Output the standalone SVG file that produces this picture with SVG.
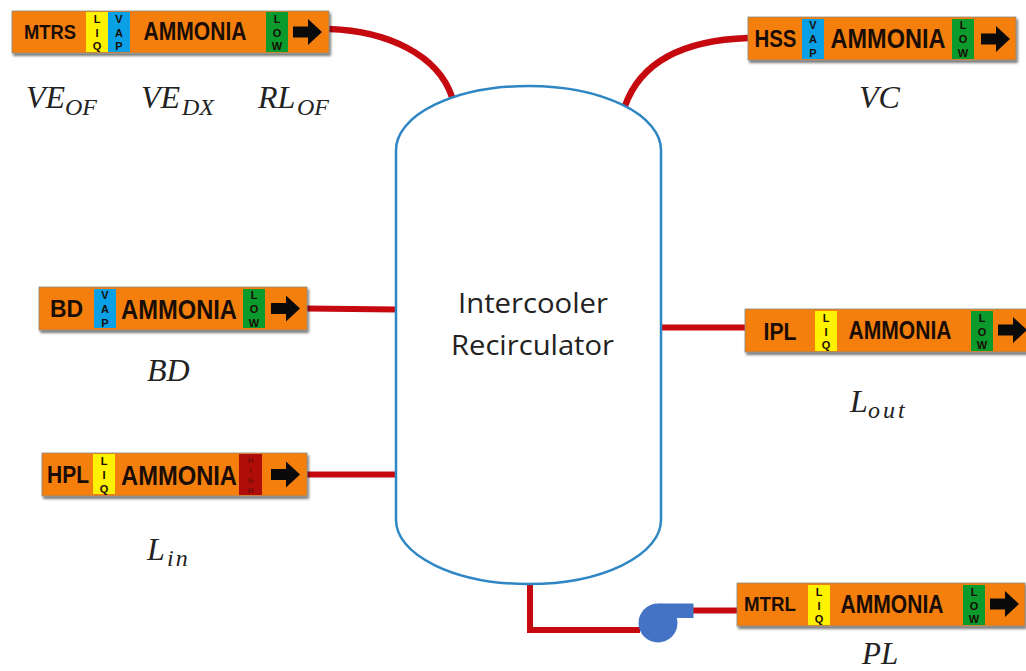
<svg xmlns="http://www.w3.org/2000/svg" width="1026" height="671" viewBox="0 0 1026 671">
<style>
.bar{fill:#f57f0e;stroke:#8a8a80;stroke-width:.8;filter:url(#sh)}
.t{font-family:"Liberation Sans",Arial,sans-serif;font-weight:700;fill:#1a0d05;text-anchor:middle}
.n{font-size:20px}
.a{font-size:25px}
.v{font-size:11px}
.h{font-size:7.5px;fill:#6e0c08}
.m{font-family:"Liberation Serif","Times New Roman",serif;font-style:italic;font-size:32px;fill:#222}
.s{font-size:24px}
.lbl{font-family:"Open Sans","Noto Sans",sans-serif;font-size:27px;fill:#222;text-anchor:middle}
.pipe{fill:none;stroke:#c5090f;stroke-width:6}
.y{fill:#fff200}.b{fill:#0aa0e6}.g{fill:#0b9a2c}.r{fill:#b00d08}
</style>
<defs>
<filter id="sh" x="-3%" y="-15%" width="106%" height="135%"><feDropShadow dx="1.5" dy="2.5" stdDeviation="1.2" flood-color="#000" flood-opacity=".55"/></filter>
<path id="ar" d="M0 -5.500H15V-13L29 0L15 13V5.500H0Z" fill="#0a0a0a"/>
</defs>
<g id="connectors">
<path class="pipe" style="stroke-width:6.500" d="M329 29C388 31 438 55 452 97"/>
<path class="pipe" style="stroke-width:6.500" d="M748 38C690 40 642 58 625 106"/>
<path class="pipe" d="M307 308.500L396 309.500"/>
<path class="pipe" d="M307 474.500H396"/>
<path class="pipe" d="M661 327.500H745"/>
<path class="pipe" d="M530 584V630H640"/>
<path class="pipe" d="M693 610.500H737"/>
</g>
<g id="vessel">
<path d="M396 150A132.500 64 0 0 1 661 150V520A132.500 64 0 0 1 396 520Z" fill="none" stroke="#2e86c4" stroke-width="2.500"/>
<text class="lbl" x="533" y="313" textLength="150" lengthAdjust="spacingAndGlyphs">Intercooler</text>
<text class="lbl" x="532.500" y="355" textLength="163" lengthAdjust="spacingAndGlyphs">Recirculator</text>
</g>
<g id="label-mtrs">
<rect class="bar" x="12" y="11" width="317" height="42"/>
<rect class="y" x="86" y="12" width="22" height="40"/><rect class="b" x="108" y="12" width="22" height="40"/><rect class="g" x="266" y="12" width="22" height="40"/>
<text class="t n" x="50" y="39" textLength="52" lengthAdjust="spacingAndGlyphs">MTRS</text>
<text class="t v"><tspan x="97" y="23">L</tspan><tspan x="97" y="36.500">I</tspan><tspan x="97" y="50">Q</tspan></text>
<text class="t v"><tspan x="119" y="23">V</tspan><tspan x="119" y="36.500">A</tspan><tspan x="119" y="50">P</tspan></text>
<text class="t a" transform="translate(195 40) scale(.843 1)">AMMONIA</text>
<text class="t v"><tspan x="277" y="23">L</tspan><tspan x="277" y="36.500">O</tspan><tspan x="277" y="50">W</tspan></text>
<use href="#ar" x="293" y="32"/>
<text class="m" x="26" y="108">VE<tspan class="s" x="65" y="115">OF</tspan></text>
<text class="m" x="141" y="108">VE<tspan class="s" x="182" y="115">DX</tspan></text>
<text class="m" x="258" y="108">RL<tspan class="s" x="297" y="115">OF</tspan></text>
</g>
<g id="label-hss">
<rect class="bar" x="748" y="17" width="268" height="43"/>
<rect class="b" x="802" y="19" width="22" height="40"/><rect class="g" x="952" y="19" width="22" height="40"/>
<text class="t n" x="775.500" y="47" textLength="42" lengthAdjust="spacingAndGlyphs" style="font-size:23px">HSS</text>
<text class="t v"><tspan x="813" y="29">V</tspan><tspan x="813" y="43">A</tspan><tspan x="813" y="56.500">P</tspan></text>
<text class="t a" transform="translate(888 48) scale(.871 1)" style="font-size:27px">AMMONIA</text>
<text class="t v"><tspan x="963" y="29">L</tspan><tspan x="963" y="43">O</tspan><tspan x="963" y="56.500">W</tspan></text>
<use href="#ar" x="981" y="39"/>
<text class="m" x="859" y="108">VC</text>
</g>
<g id="label-bd">
<rect class="bar" x="39" y="287" width="268" height="43"/>
<rect class="b" x="94" y="289" width="22" height="39"/><rect class="g" x="243" y="289" width="22" height="39"/>
<text class="t n" x="66.500" y="317" style="font-size:23px">BD</text>
<text class="t v"><tspan x="105" y="299">V</tspan><tspan x="105" y="313">A</tspan><tspan x="105" y="326.500">P</tspan></text>
<text class="t a" transform="translate(179 319) scale(.879 1)" style="font-size:27px">AMMONIA</text>
<text class="t v"><tspan x="254" y="299">L</tspan><tspan x="254" y="313">O</tspan><tspan x="254" y="326.500">W</tspan></text>
<use href="#ar" x="271" y="308.500"/>
<text class="m" x="147" y="381">BD</text>
</g>
<g id="label-hpl">
<rect class="bar" x="42" y="453" width="265" height="43"/>
<rect class="y" x="93" y="454" width="22" height="40"/><rect class="r" x="239" y="454" width="23" height="41"/>
<text class="t n" x="68" y="483" textLength="42" lengthAdjust="spacingAndGlyphs" style="font-size:23px">HPL</text>
<text class="t v"><tspan x="104" y="465">L</tspan><tspan x="104" y="479">I</tspan><tspan x="104" y="492.500">Q</tspan></text>
<text class="t a" transform="translate(179 485) scale(.879 1)" style="font-size:27px">AMMONIA</text>
<text class="t h"><tspan x="250.500" y="463">H</tspan><tspan x="250.500" y="473">I</tspan><tspan x="250.500" y="483">G</tspan><tspan x="250.500" y="493">H</tspan></text>
<use href="#ar" x="271" y="474.500"/>
<text class="m" x="147" y="560">L<tspan class="s" x="167" y="566" letter-spacing="2">in</tspan></text>
</g>
<g id="label-ipl">
<rect class="bar" x="745" y="309" width="284" height="43"/>
<rect class="y" x="815" y="311" width="22" height="40"/><rect class="g" x="971" y="311" width="22" height="40"/>
<text class="t n" x="780" y="340" textLength="33" lengthAdjust="spacingAndGlyphs" style="font-size:23px">IPL</text>
<text class="t v"><tspan x="826" y="322">L</tspan><tspan x="826" y="335.500">I</tspan><tspan x="826" y="349">Q</tspan></text>
<text class="t a" transform="translate(900 339) scale(.843 1)">AMMONIA</text>
<text class="t v"><tspan x="982" y="322">L</tspan><tspan x="982" y="335.500">O</tspan><tspan x="982" y="349">W</tspan></text>
<use href="#ar" x="998" y="330"/>
<text class="m" x="850" y="412">L<tspan class="s" x="868" y="418" letter-spacing="3">out</tspan></text>
</g>
<g id="label-mtrl">
<rect class="bar" x="737" y="583" width="288" height="43"/>
<rect class="y" x="808" y="585" width="22" height="40"/><rect class="g" x="963" y="585" width="22" height="40"/>
<text class="t n" x="770" y="611" textLength="52" lengthAdjust="spacingAndGlyphs">MTRL</text>
<text class="t v"><tspan x="819" y="596">L</tspan><tspan x="819" y="609.500">I</tspan><tspan x="819" y="623">Q</tspan></text>
<text class="t a" transform="translate(892 613) scale(.843 1)">AMMONIA</text>
<text class="t v"><tspan x="974" y="596">L</tspan><tspan x="974" y="609.500">O</tspan><tspan x="974" y="623">W</tspan></text>
<use href="#ar" x="990" y="604"/>
<text class="m" x="862" y="664" style="font-size:31px">PL</text>
</g>
<g id="pump">
<path d="M659 603.500H693.500V618H677Z" fill="#4472c4"/>
<circle cx="658" cy="623" r="19.500" fill="#4472c4"/>
</g>
</svg>
